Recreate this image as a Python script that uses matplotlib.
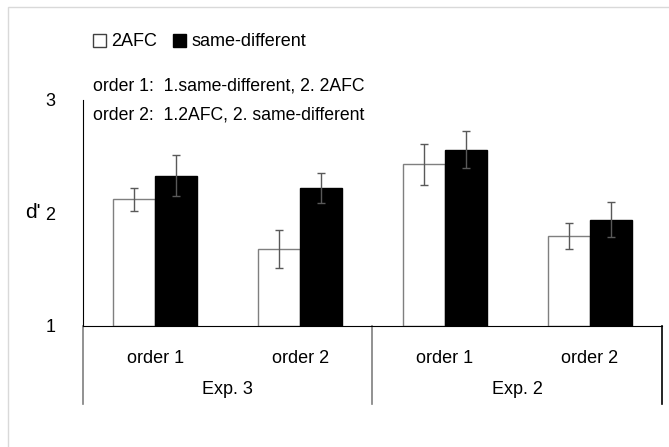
import matplotlib.pyplot as plt
from matplotlib.patches import Patch, Rectangle
import numpy as np

plt.rcParams['font.family'] = ['Liberation Sans', 'DejaVu Sans']

# d' per condition, Exp. 3 then Exp. 2
orders = ["order 1", "order 2", "order 1", "order 2"]
experiments = ["Exp. 3", "Exp. 2"]
afc = [2.12, 1.68, 2.43, 1.80]
afc_err = [0.10, 0.17, 0.18, 0.115]
same_diff = [2.33, 2.22, 2.56, 1.94]
same_diff_err = [0.18, 0.13, 0.165, 0.155]

fig = plt.figure(figsize=(6.69, 4.47), dpi=100)
# thin grey frame around the chart area
fig.patches.append(Rectangle((8 / 669, -0.1), 1.2, 1 - 7 / 447 + 0.1, transform=fig.transFigure,
                             fill=False, edgecolor="#d9d9d9", linewidth=1))

ax = fig.add_axes([83 / 669, (447 - 326) / 447, (662 - 83) / 669, 226 / 447])

x = np.arange(len(orders))
w = 0.29
err_kw = dict(ecolor="#595959", elinewidth=1, capsize=3, capthick=1)
ax.bar(x - w / 2, np.array(afc) - 1, w, bottom=1, color="white", edgecolor="#7f7f7f",
       linewidth=1, yerr=afc_err, error_kw=err_kw, label="2AFC")
ax.bar(x + w / 2, np.array(same_diff) - 1, w, bottom=1, color="black", edgecolor="black",
       linewidth=1, yerr=same_diff_err, error_kw=err_kw, label="same-different")

ax.set_xlim(-0.5, 3.5)
ax.set_ylim(1, 3)
ax.set_yticks([1, 2, 3])
ax.tick_params(axis="y", length=0, pad=20, labelsize=13)
ax.set_xticks([])
for s in ["top", "right"]:
    ax.spines[s].set_visible(False)
ax.spines["bottom"].set_color("black")
ax.spines["left"].set_color("black")

ax.text(-0.0725, 0.5, "d'", transform=ax.transAxes, fontsize=15, ha="right", va="center")

# two-level category labels under the axis
tr = ax.get_xaxis_transform()
for xi, lab in zip(x, orders):
    ax.text(xi, -0.142, lab, transform=tr, ha="center", va="center", fontsize=13)
for i, lab in enumerate(experiments):
    ax.text(0.5 + 2 * i, -0.283, lab, transform=tr, ha="center", va="center", fontsize=13)
for xv, col in [(-0.5, "#7f7f7f"), (1.5, "#7f7f7f"), (3.5, "black")]:
    ax.plot([xv, xv], [0, -0.345], transform=tr, color=col, linewidth=1.2, clip_on=False)

handles = [Patch(facecolor="white", edgecolor="#404040", linewidth=1, label="2AFC"),
           Patch(facecolor="black", edgecolor="black", label="same-different")]
fig.legend(handles=handles, loc="center left", bbox_to_anchor=(86 / 669, 1 - 42 / 447),
           ncol=2, frameon=False, fontsize=13, handlelength=0.7, handleheight=0.7,
           handletextpad=0.3, columnspacing=0.9, borderaxespad=0)

fig.text(93 / 669, 1 - 86 / 447, "order 1:  1.same-different, 2. 2AFC", fontsize=12.7, va="center")
fig.text(93 / 669, 1 - 115 / 447, "order 2:  1.2AFC, 2. same-different", fontsize=12.7, va="center")

fig.savefig("out.png", dpi=100)
